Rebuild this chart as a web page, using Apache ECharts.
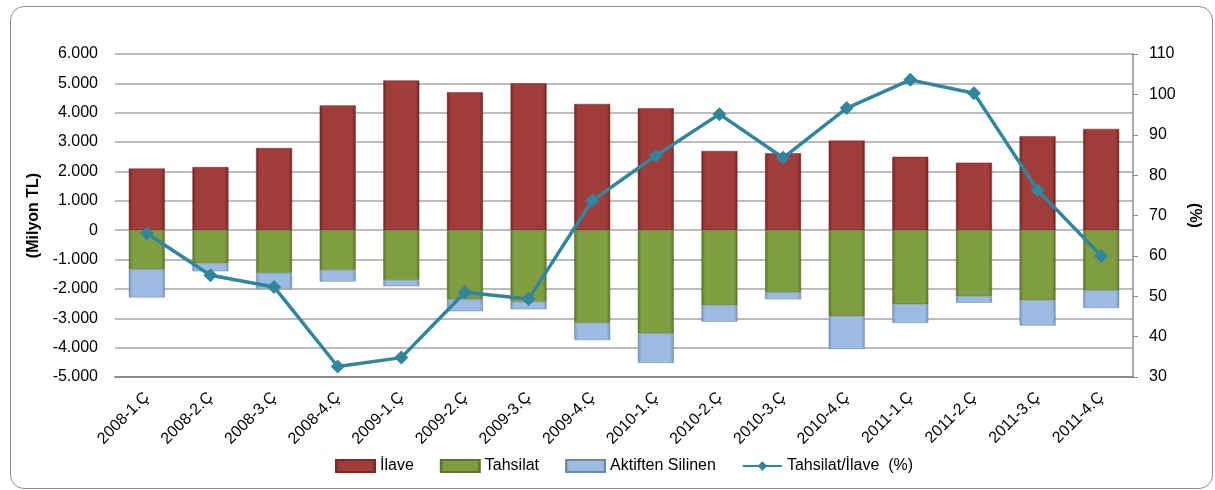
<!DOCTYPE html>
<html>
<head>
  <meta charset="utf-8">
  <title>Tahsilat</title>
  <script src="https://cdn.jsdelivr.net/npm/echarts@6/dist/echarts.min.js"></script>
  <style>
    body { margin: 0; background: #fff; }
    #frame { position: absolute; left: 10px; top: 6px; width: 1201px; height: 481px;
      border: 1.5px solid #8c8c8c; border-radius: 14px; }
    #main { position: absolute; left: 0; top: 0; width: 1215px; height: 490px; }
  </style>
</head>
<body>
  <div id="frame"></div>
  <div id="main"></div>
  <script type="text/javascript">
    // donemler
    var quarters = ['2008-1.Ç', '2008-2.Ç', '2008-3.Ç', '2008-4.Ç', '2009-1.Ç', '2009-2.Ç', '2009-3.Ç', '2009-4.Ç',
      '2010-1.Ç', '2010-2.Ç', '2010-3.Ç', '2010-4.Ç', '2011-1.Ç', '2011-2.Ç', '2011-3.Ç', '2011-4.Ç'];
    // milyon TL
    var ilave = [2100, 2150, 2800, 4250, 5100, 4700, 5000, 4300, 4150, 2700, 2620, 3050, 2500, 2300, 3200, 3450];
    var tahsilat = [-1340, -1130, -1450, -1360, -1700, -2360, -2440, -3150, -3520, -2560, -2125, -2930, -2520, -2250, -2390, -2050];
    var silinen = [-950, -270, -560, -390, -210, -400, -250, -590, -1000, -560, -230, -1120, -640, -220, -860, -600];
    // yuzde
    var oran = [65.6, 55.2, 52.3, 32.6, 34.8, 51, 49.3, 73.7, 84.8, 95.1, 84.3, 96.6, 103.6, 100.3, 76.3, 60];

    var font = 'Liberation Sans';

    function barFill(dark, mid) {
      return new echarts.graphic.LinearGradient(0, 0, 1, 0, [
        { offset: 0, color: dark },
        { offset: 0.1, color: mid },
        { offset: 0.9, color: mid },
        { offset: 1, color: dark }
      ]);
    }

    function tr(v) {
      var s = String(Math.abs(v)).replace(/\B(?=(\d{3})+(?!\d))/g, '.');
      return (v < 0 ? '-' : '') + s;
    }

    var myChart = echarts.init(document.getElementById('main'));

    var option = {
      animation: false,
      textStyle: { fontFamily: font },
      grid: { left: 115, right: 82, top: 54, bottom: 113 },
      legend: {
        bottom: 11,
        left: 330,
        itemWidth: 39,
        itemHeight: 12,
        itemGap: 26,
        textStyle: { fontSize: 16, color: '#000', fontFamily: font },
        data: [
          { name: 'İlave', icon: 'rect' },
          { name: 'Tahsilat', icon: 'rect' },
          { name: 'Aktiften Silinen', icon: 'rect' },
          { name: 'Tahsilat/İlave  (%)' }
        ]
      },
      xAxis: {
        type: 'category',
        data: quarters,
        axisTick: { show: false },
        axisLine: { onZero: false, lineStyle: { color: '#8c8c8c', width: 2 } },
        axisLabel: { rotate: 45, fontSize: 16, color: '#000', margin: 18, interval: 0 }
      },
      yAxis: [{
        type: 'value',
        min: -5000,
        max: 6000,
        interval: 1000,
        name: '(Milyon TL)',
        nameLocation: 'middle',
        nameGap: 71,
        nameTextStyle: { fontSize: 16, fontWeight: 'bold', color: '#000' },
        axisLine: { show: false },
        axisTick: { show: false },
        axisLabel: { fontSize: 16, color: '#000', margin: 17, formatter: tr },
        splitLine: { lineStyle: { color: '#a6a6a6', width: 1.5 } }
      }, {
        type: 'value',
        min: 30,
        max: 110,
        interval: 10,
        name: '(%)',
        nameLocation: 'middle',
        nameGap: 51,
        nameRotate: -90,
        nameTextStyle: { fontSize: 16, fontWeight: 'bold', color: '#000' },
        axisLine: { show: true, lineStyle: { color: '#8c8c8c', width: 1.5 } },
        axisTick: { show: true, length: 5, lineStyle: { color: '#8c8c8c' } },
        axisLabel: { fontSize: 16, color: '#000', margin: 16 },
        splitLine: { show: false }
      }],
      series: [{
        name: 'İlave',
        type: 'bar',
        stack: 'a',
        data: ilave,
        barWidth: 36,
        itemStyle: { color: barFill('#6e2523', '#a03c3a'), borderColor: '#7a2a28', borderWidth: 0.5 }
      }, {
        name: 'Tahsilat',
        type: 'bar',
        stack: 'a',
        data: tahsilat,
        itemStyle: { color: barFill('#5a7229', '#809d41'), borderColor: '#5d7530', borderWidth: 0.5 }
      }, {
        name: 'Aktiften Silinen',
        type: 'bar',
        stack: 'a',
        data: silinen,
        itemStyle: { color: barFill('#7a93b5', '#9cbce4'), borderColor: '#6f86a6', borderWidth: 0.5 }
      }, {
        name: 'Tahsilat/İlave  (%)',
        type: 'line',
        yAxisIndex: 1,
        data: oran,
        symbol: 'diamond',
        symbolSize: 14,
        lineStyle: { color: '#31859c', width: 3.5 },
        itemStyle: { color: '#31859c' }
      }]
    };

    myChart.setOption(option);
  </script>
</body>
</html>
